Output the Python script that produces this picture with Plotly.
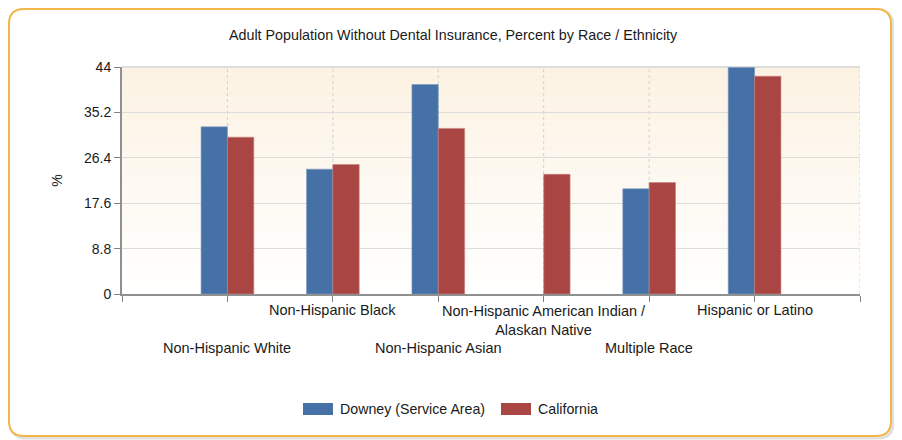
import plotly.graph_objects as go

categories = ["Non-Hispanic White", "Non-Hispanic Black", "Non-Hispanic Asian",
              "Non-Hispanic American Indian /<br>Alaskan Native", "Multiple Race",
              "Hispanic or Latino"]
downey = [32.4, 24.2, 40.6, None, 20.4, 43.9]
california = [30.4, 25.1, 32.1, 23.2, 21.6, 42.2]
y_ticks = [0, 8.8, 17.6, 26.4, 35.2, 44]
y_tick_labels = ["0", "8.8", "17.6", "26.4", "35.2", "44"]
series_names = ["Downey (Service Area)", "California"]
title_text = "Adult Population Without Dental Insurance, Percent by Race / Ethnicity"

OFF = 8  # page body offset
W, H = 902 - OFF, 440 - OFF
# plot area in reference page pixels
L, R, T, B = 122, 860, 67, 294
FONT = "Liberation Sans, Arial, sans-serif"
BLUE = "#4671A6"
RED = "#A94644"

def px(x):
    return (x - L) / (R - L)

def py(y):
    return (B - y) / (B - T)

xpos = list(range(1, len(categories) + 1))

fig = go.Figure()
fig.add_trace(go.Bar(x=xpos, y=downey, name=series_names[0],
                     marker=dict(color=BLUE, line=dict(color="#7F9CC4", width=0.6)), showlegend=False))
fig.add_trace(go.Bar(x=xpos, y=california, name=series_names[1],
                     marker=dict(color=RED, line=dict(color="#C77F7D", width=0.6)), showlegend=False))

shapes = []
# gradient background for plot area
n = 30
c0 = (252, 242, 226)
c1 = (255, 255, 255)
for i in range(n):
    f = i / (n - 1)
    col = tuple(round(c0[k] + (c1[k] - c0[k]) * f) for k in range(3))
    shapes.append(dict(type="rect", xref="x domain", yref="y domain", x0=0, x1=1,
                       y0=1 - (i + 1) / n, y1=1 - i / n, fillcolor="rgb(%d,%d,%d)" % col,
                       line=dict(width=0), layer="below"))

# outer rounded panel (reference page pixels)
def P(x, y):
    return "%.5f,%.5f" % (px(x), py(y))

def rounded(x0p, y0p, x1p, y1p, r):
    return ("M " + P(x0p + r, y0p) + " L " + P(x1p - r, y0p) + " Q " + P(x1p, y0p) + " " + P(x1p, y0p + r) +
            " L " + P(x1p, y1p - r) + " Q " + P(x1p, y1p) + " " + P(x1p - r, y1p) +
            " L " + P(x0p + r, y1p) + " Q " + P(x0p, y1p) + " " + P(x0p, y1p - r) +
            " L " + P(x0p, y0p + r) + " Q " + P(x0p, y0p) + " " + P(x0p + r, y0p) + " Z")

# soft shadow
shapes.append(dict(type="path", xref="paper", yref="paper", path=rounded(11, 11, 893, 438, 15),
                   line=dict(color="rgba(0,0,0,0.12)", width=3), fillcolor="rgba(0,0,0,0)", layer="below"))
shapes.append(dict(type="path", xref="paper", yref="paper", path=rounded(9, 9, 891, 436, 15),
                   line=dict(color="#F2B64A", width=2), fillcolor="white", layer="below"))

# re-add gradient above the panel fill: move panel to front of list
shapes = shapes[n:] + shapes[:n]

# vertical dotted category gridlines
for xv in xpos + [7]:
    shapes.append(dict(type="line", xref="x", yref="y domain", x0=xv, x1=xv, y0=0, y1=1,
                       line=dict(color="#D0D0D0", width=1, dash="dot"), layer="below"))
# top border line
shapes.append(dict(type="line", xref="x domain", yref="y domain", x0=0, x1=1, y0=1, y1=1,
                   line=dict(color="#DCDCDC", width=2), layer="below"))

# legend swatches
leg_y = 409
shapes.append(dict(type="rect", xref="paper", yref="paper", x0=px(303), x1=px(333), y0=py(415), y1=py(403),
                   fillcolor=BLUE, line=dict(width=0)))
shapes.append(dict(type="rect", xref="paper", yref="paper", x0=px(501), x1=px(531), y0=py(415), y1=py(403),
                   fillcolor=RED, line=dict(width=0)))

annotations = []
annotations.append(dict(x=px(453), xref="paper", y=py(35), yref="paper", text=title_text, showarrow=False,
                        xanchor="center", yanchor="middle",
                        font=dict(family=FONT, size=14.3, color="#1a1a1a")))
for i, (xv, lab) in enumerate(zip(xpos, categories)):
    yy = 348 if i % 2 == 0 else 310
    annotations.append(dict(x=xv, xref="x", y=py(yy), yref="paper", text=lab, showarrow=False,
                            xanchor="center", yanchor="top" if "<br>" in lab else "middle",
                            yshift=9 if "<br>" in lab else 0,
                            font=dict(family=FONT, size=14.5, color="#1a1a1a")))
annotations.append(dict(x=px(338), xref="paper", y=py(leg_y), yref="paper", text=series_names[0],
                        showarrow=False, xanchor="left", yanchor="middle",
                        font=dict(family=FONT, size=14.2, color="#1a1a1a")))
annotations.append(dict(x=px(536), xref="paper", y=py(leg_y), yref="paper", text=series_names[1],
                        showarrow=False, xanchor="left", yanchor="middle",
                        font=dict(family=FONT, size=14.2, color="#1a1a1a")))

fig.update_layout(
    width=W, height=H,
    margin=dict(l=L - OFF, r=902 - R, t=T - OFF, b=440 - B, pad=0),
    paper_bgcolor="white",
    plot_bgcolor="rgba(0,0,0,0)",
    barmode="group", bargap=0.5, bargroupgap=0,
    font=dict(family=FONT, size=14, color="#1a1a1a"),
    xaxis=dict(range=[0, 7], tickvals=list(range(8)), showticklabels=False, ticks="outside",
               ticklen=6, tickcolor="#808080", showline=True, linecolor="#909090", linewidth=2,
               showgrid=False, zeroline=False, fixedrange=True),
    yaxis=dict(range=[0, 44], tickvals=y_ticks, ticktext=y_tick_labels, ticks="outside", ticklen=6,
               tickcolor="#808080", showline=True, linecolor="#909090", linewidth=2,
               gridcolor="#DCDCDC", gridwidth=1, zeroline=False,
               title=dict(text="%", standoff=18, font=dict(family=FONT, size=14)),
               tickfont=dict(family=FONT, size=14, color="#1a1a1a")),
    shapes=shapes, annotations=annotations,
)

fig.write_html("out.html")
